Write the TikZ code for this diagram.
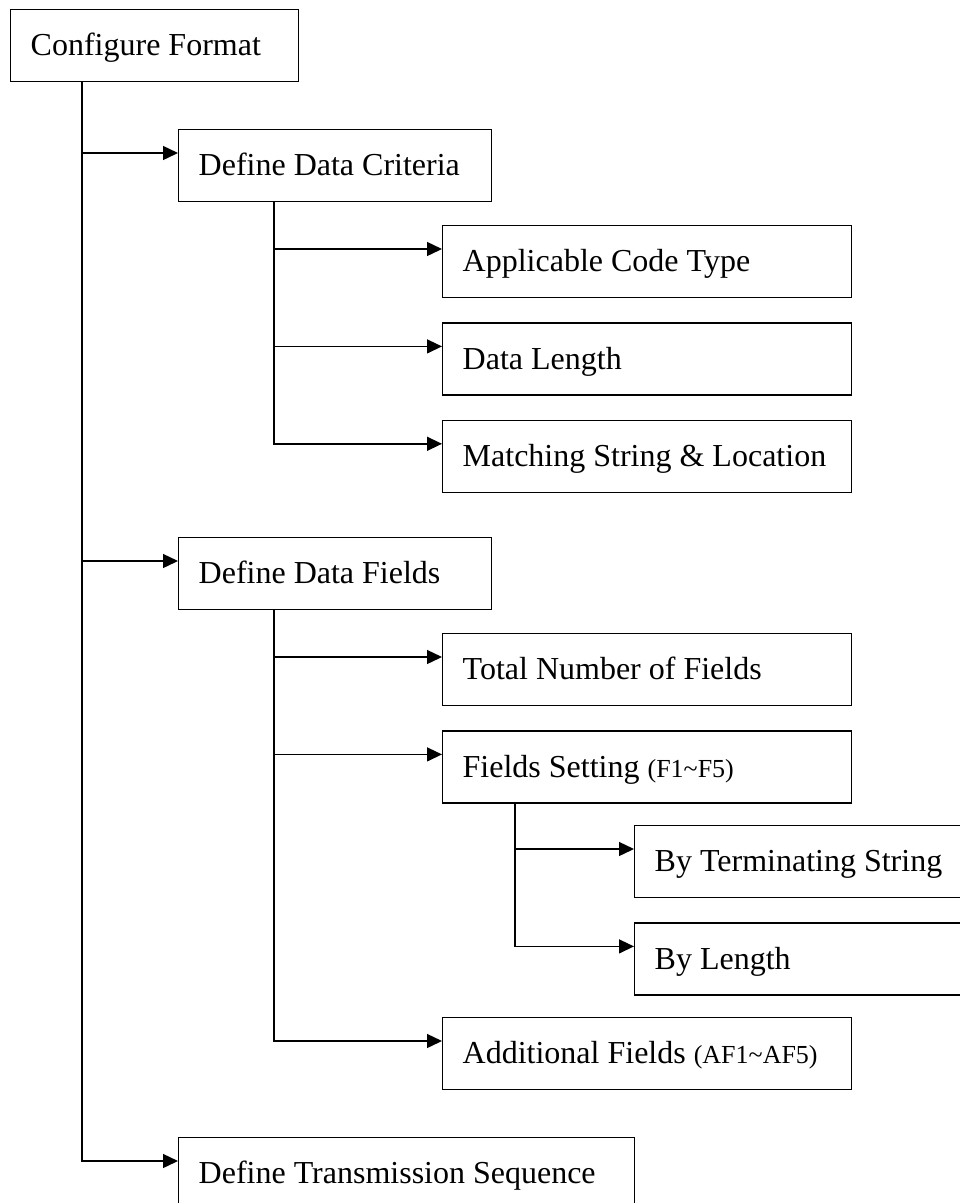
\documentclass[tikz,border=0pt]{standalone}
\usepackage{fontspec}
\setmainfont{Liberation Serif}
\usepackage{tikz}
\usetikzlibrary{arrows.meta,positioning}
\newcommand{\smalltag}[1]{{\fontsize{26}{30}\selectfont #1}}

\begin{document}
\begin{tikzpicture}[x=1pt,y=-1pt,>={Triangle[length=15pt,width=14pt]},line width=1.4pt,
  box/.style={draw,rectangle,anchor=north west,align=flush left,inner xsep=20pt,inner ysep=24pt,
    text height=22pt,text depth=2pt,font=\fontsize{32}{38}\selectfont},
  top box/.style={box,text width=248pt},
  mid box/.style={box,text width=273pt},
  leaf box/.style={box,text width=369pt},
  wide box/.style={box,text width=416pt},
  link/.style={->,to path={|- (\tikztotarget)}}]
  \useasboundingbox (0,0) rectangle (960,1203);
  \clip (0,0) rectangle (960,1203);
  \node[top box] (cfg) at (10,9) {Configure Format};
  \node[mid box] (ddc) at (178,129) {Define Data Criteria};
  \node[leaf box] (act) at (442,225) {Applicable Code Type};
  \node[leaf box] (dlen) [below=24pt of act] {Data Length};
  \node[leaf box] (msl) [below=24pt of dlen] {Matching String \& Location};
  \node[mid box] (ddf) at (178,537) {Define Data Fields};
  \node[leaf box] (tnf) at (442,633) {Total Number of Fields};
  \node[leaf box] (fset) [below=24pt of tnf] {Fields Setting \smalltag{(F1\textasciitilde F5)}};
  \node[leaf box] (bts) at (634,825) {By Terminating String};
  \node[leaf box] (blen) [below=24pt of bts] {By Length};
  \node[leaf box] (adf) at (442,1017) {Additional Fields \smalltag{(AF1\textasciitilde AF5)}};
  \node[wide box] (dts) at (178,1137) {Define Transmission Sequence};

  \path[link]
    ([xshift=72pt]cfg.south west) edge ([yshift=-24pt]ddc.north west)
    ([xshift=72pt]cfg.south west) edge ([yshift=-24pt]ddf.north west)
    ([xshift=72pt]cfg.south west) edge ([yshift=-24pt]dts.north west)
    ([xshift=96pt]ddc.south west) edge ([yshift=-24pt]act.north west)
    ([xshift=96pt]ddc.south west) edge ([yshift=-24pt]dlen.north west)
    ([xshift=96pt]ddc.south west) edge ([yshift=-24pt]msl.north west)
    ([xshift=96pt]ddf.south west) edge ([yshift=-24pt]tnf.north west)
    ([xshift=96pt]ddf.south west) edge ([yshift=-24pt]fset.north west)
    ([xshift=96pt]ddf.south west) edge ([yshift=-24pt]adf.north west)
    ([xshift=73pt]fset.south west) edge ([yshift=-24pt]bts.north west)
    ([xshift=73pt]fset.south west) edge ([yshift=-24pt]blen.north west);
\end{tikzpicture}
\end{document}
